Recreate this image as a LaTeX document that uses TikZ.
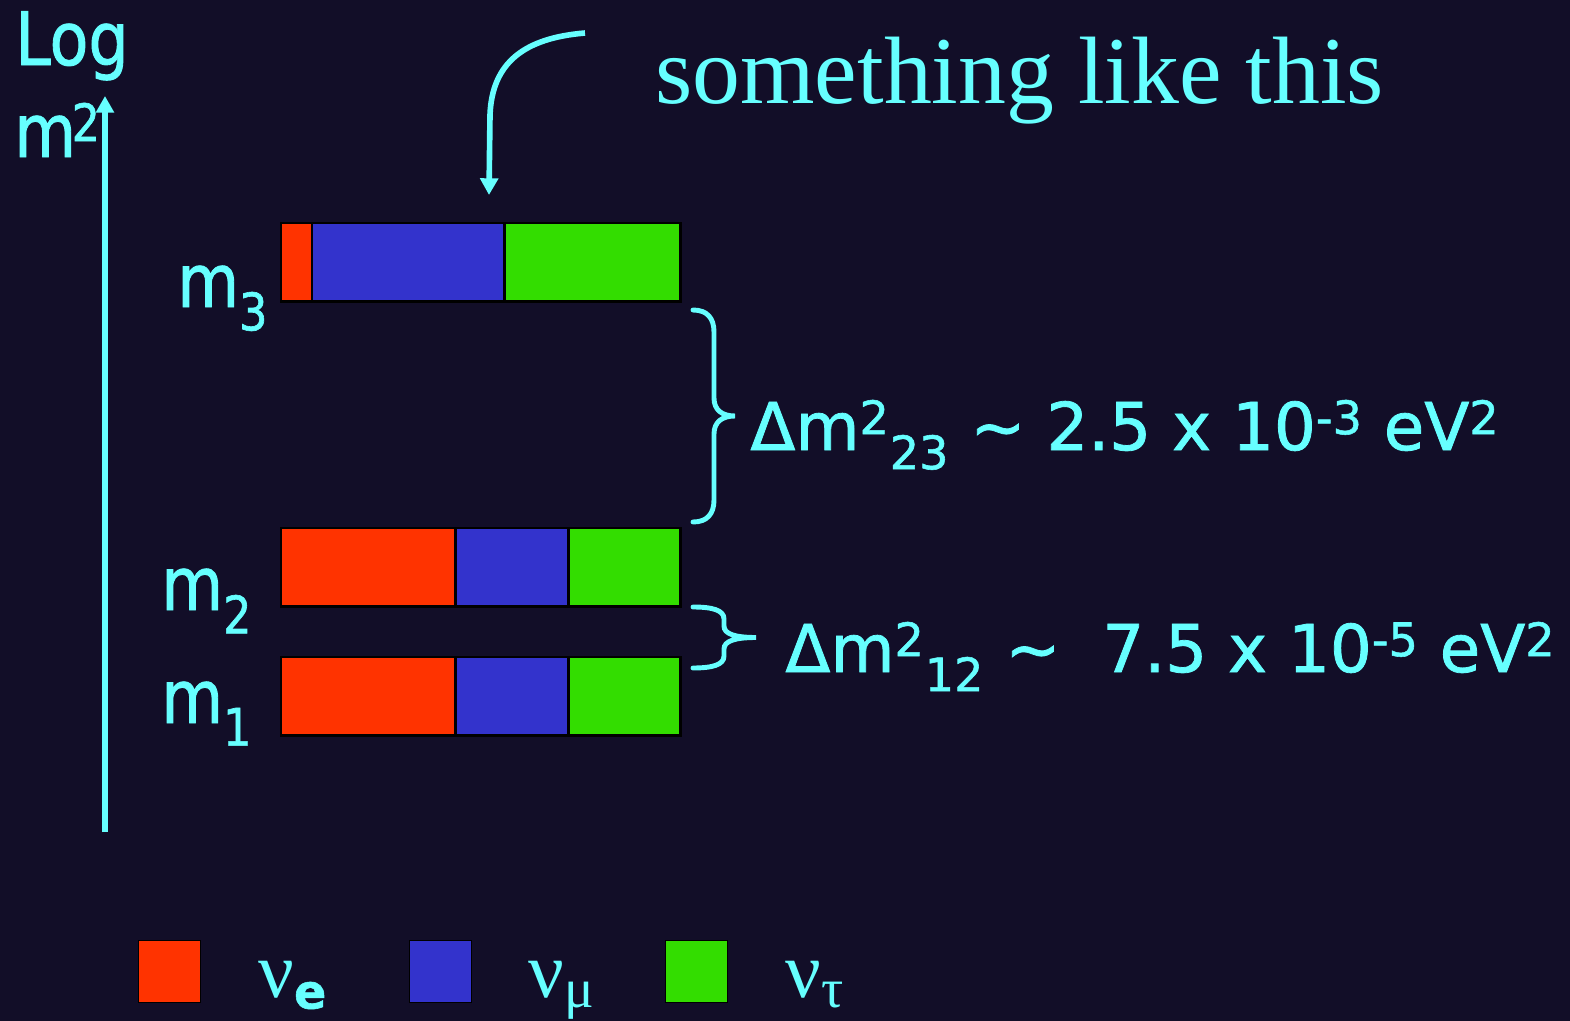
\documentclass[tikz,border=0pt]{standalone}
\usepackage{fontspec}
\setmainfont{Liberation Serif}
\newfontfamily\comicfont{DejaVu Sans}[FakeBold=1.2]
\newfontfamily\comicnarrow{DejaVu Sans}[FakeStretch=0.86,FakeBold=1.2]
\usepackage{tikz}
\usetikzlibrary{positioning,calc,arrows.meta}
\definecolor{slide_bg}{HTML}{120E28}
\definecolor{slide_cyan}{HTML}{66FFFF}
\definecolor{nu_e}{HTML}{FF3300}
\definecolor{nu_mu}{HTML}{3333CC}
\definecolor{nu_tau}{HTML}{33DD00}
\tikzset{SEGMENT/.style={rectangle,draw=black,line width=1.7pt,inner sep=0pt,outer sep=0pt,minimum height=1.58cm}}
\tikzset{LABEL/.style={text=slide_cyan,inner sep=0pt,anchor=base west,font=\comicnarrow\fontsize{42}{46}\selectfont}}
\tikzset{SPLIT/.style={LABEL,font=\comicfont\fontsize{37.5}{44}\selectfont}}
\tikzset{KEY/.style={rectangle,draw=black,line width=0.6pt,inner sep=0pt,minimum size=1.24cm,anchor=north west}}
\tikzset{NU/.style={text=slide_cyan,inner sep=0pt,anchor=base west,font=\fontsize{45}{50}\selectfont}}
\tikzset{ARROW/.style={slide_cyan,line width=3.2pt,-{Triangle[width=10pt,length=9.5pt]}}}
\tikzset{BRACE/.style={slide_cyan,line width=2.8pt,line cap=round}}

\begin{document}
\begin{tikzpicture}[x=0.02cm,y=-0.02cm]

\useasboundingbox (0,0) rectangle (1570,1021);
\fill[slide_bg] (0,0) rectangle (1570,1021);

\node[LABEL] (n_log) at (15,65) {Log};
\node[LABEL] (n_msq) at (14,157) {m\kern-0.06em\textsuperscript{2}};

\coordinate (c_axis_bottom) at (105,832);
\coordinate (c_axis_top) at (105,96);
\draw[ARROW,line width=3.5pt] (c_axis_bottom) -- (c_axis_top);

\node[anchor=base west,inner sep=0pt,text=slide_cyan,font=\fontsize{54.5}{60}\selectfont] (n_title) at (655,103) {something like this};

\coordinate (c_hint_start) at (585,33);
\coordinate (c_hint_end) at (489,195);
\draw[ARROW] (c_hint_start) .. controls (525,38) and (492,62) .. (490,115) -- (c_hint_end);

\node[SEGMENT,fill=nu_e,minimum width=0.62cm,anchor=north west] (n_m3_e) at (281,223) {};
\node[SEGMENT,fill=nu_mu,minimum width=3.86cm,right=0pt of n_m3_e] (n_m3_mu) {};
\node[SEGMENT,fill=nu_tau,minimum width=3.52cm,right=0pt of n_m3_mu] (n_m3_tau) {};
\node[LABEL] (n_m3) at (177,307) {m\textsubscript{3}};

\node[SEGMENT,fill=nu_e,minimum width=3.5cm,anchor=north west] (n_m2_e) at (281,528) {};
\node[SEGMENT,fill=nu_mu,minimum width=2.26cm,right=0pt of n_m2_e] (n_m2_mu) {};
\node[SEGMENT,fill=nu_tau,minimum width=2.24cm,right=0pt of n_m2_mu] (n_m2_tau) {};
\node[LABEL] (n_m2) at (161,610) {m\textsubscript{2}};

\node[SEGMENT,fill=nu_e,minimum width=3.5cm,anchor=north west] (n_m1_e) at (281,657) {};
\node[SEGMENT,fill=nu_mu,minimum width=2.26cm,right=0pt of n_m1_e] (n_m1_mu) {};
\node[SEGMENT,fill=nu_tau,minimum width=2.24cm,right=0pt of n_m1_mu] (n_m1_tau) {};
\node[LABEL] (n_m1) at (161,723) {m\textsubscript{1}};

\draw[BRACE] (693,310) .. controls (707,310) and (714,318) .. (714,332) -- (714,398)
  .. controls (714,410) and (722,416) .. (735,416)
  .. controls (722,416) and (714,422) .. (714,434) -- (714,500)
  .. controls (714,514) and (707,522) .. (693,522);
\node[SPLIT] (n_dm23) at (750,450) {Δm\textsuperscript{2}\textsubscript{23} \textasciitilde{} 2.5 x 10\textsuperscript{-3} eV\textsuperscript{2}};

\draw[BRACE] (693,607) .. controls (712,607) and (724,610) .. (724,619) -- (724,626)
  .. controls (724,634) and (735,637.5) .. (756,637.5)
  .. controls (735,637.5) and (724,641) .. (724,649) -- (724,656)
  .. controls (724,665) and (712,668) .. (693,668);
\node[SPLIT] (n_dm12) at (785,672) {Δm\textsuperscript{2}\textsubscript{12} \textasciitilde{}\ \ 7.5 x 10\textsuperscript{-5} eV\textsuperscript{2}};

\node[KEY,fill=nu_e] (n_key_e) at (138,940) {};
\node[NU] (n_nu_e) at (258,997) {ν\textsubscript{\comicfont\bfseries\fontsize{27}{30}\selectfont e}};
\node[KEY,fill=nu_mu] (n_key_mu) at (409,940) {};
\node[NU] (n_nu_mu) at (528,997) {ν\textsubscript{μ}};
\node[KEY,fill=nu_tau] (n_key_tau) at (665,940) {};
\node[NU] (n_nu_tau) at (785,997) {ν\textsubscript{τ}};

\end{tikzpicture}
\end{document}
